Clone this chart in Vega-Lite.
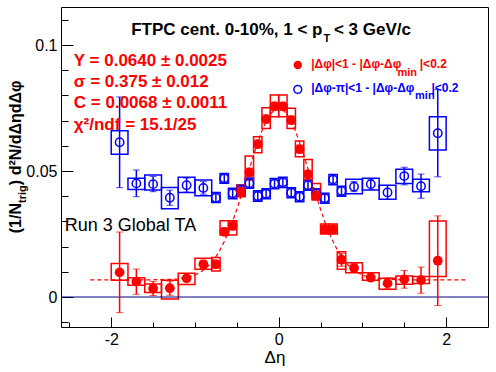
{
  "$schema": "https://vega.github.io/schema/vega-lite/v6.json",
  "width": 427,
  "height": 320,
  "autosize": "none",
  "padding": {"left": 61, "top": 7, "right": 8, "bottom": 45},
  "background": "white",
  "config": {
    "view": {"stroke": "#000000", "strokeWidth": 1},
    "text": {"font": "Liberation Sans"},
    "axis": {"labelFont": "Liberation Sans", "titleFont": "Liberation Sans", "domain": false, "grid": false, "tickColor": "black", "tickWidth": 1, "labelColor": "black", "labelOverlap": false, "labelFlush": false, "labelBound": false}
  },
  "resolve": {"axis": {"x": "independent", "y": "independent"}},
  "data": {"values": [{}]},
  "datasets": {
    "near": [
      {"x": -1.9, "xlo": -2.0, "xhi": -1.8, "y": 0.0098, "err": 0.016, "slo": 0.0067, "shi": 0.0133},
      {"x": -1.7, "xlo": -1.8, "xhi": -1.6, "y": 0.0061, "err": 0.005, "slo": 0.0047, "shi": 0.0076},
      {"x": -1.5, "xlo": -1.6, "xhi": -1.4, "y": 0.0034, "err": 0.0028, "slo": 0.0018, "shi": 0.0052},
      {"x": -1.3, "xlo": -1.4, "xhi": -1.2, "y": 0.0035, "err": 0.0028, "slo": -0.0008, "shi": 0.0067},
      {"x": -1.1, "xlo": -1.2, "xhi": -1.0, "y": 0.0074, "err": 0.0013, "slo": 0.005, "shi": 0.0094},
      {"x": -0.9, "xlo": -1.0, "xhi": -0.8, "y": 0.013, "err": 0.0016, "slo": 0.011, "shi": 0.0154},
      {"x": -0.75, "xlo": -0.8, "xhi": -0.7, "y": 0.013, "err": 0.0016, "slo": 0.0103, "shi": 0.0157},
      {"x": -0.65, "xlo": -0.7, "xhi": -0.6, "y": 0.0259, "err": 0.0015, "slo": 0.0246, "shi": 0.0303},
      {"x": -0.55, "xlo": -0.6, "xhi": -0.5, "y": 0.0282, "err": 0.0015, "slo": 0.0246, "shi": 0.0303},
      {"x": -0.45, "xlo": -0.5, "xhi": -0.4, "y": 0.0418, "err": 0.0015, "slo": 0.0398, "shi": 0.0444},
      {"x": -0.35, "xlo": -0.4, "xhi": -0.3, "y": 0.0495, "err": 0.0016, "slo": 0.0464, "shi": 0.056},
      {"x": -0.25, "xlo": -0.3, "xhi": -0.2, "y": 0.0607, "err": 0.0016, "slo": 0.0573, "shi": 0.0636},
      {"x": -0.15, "xlo": -0.2, "xhi": -0.1, "y": 0.0706, "err": 0.0016, "slo": 0.0669, "shi": 0.0751},
      {"x": -0.05, "xlo": -0.1, "xhi": 0.0, "y": 0.0757, "err": 0.0016, "slo": 0.0715, "shi": 0.0802},
      {"x": 0.05, "xlo": 0.0, "xhi": 0.1, "y": 0.0757, "err": 0.0016, "slo": 0.0715, "shi": 0.0802},
      {"x": 0.15, "xlo": 0.1, "xhi": 0.2, "y": 0.0702, "err": 0.0016, "slo": 0.0669, "shi": 0.0749},
      {"x": 0.25, "xlo": 0.2, "xhi": 0.3, "y": 0.0587, "err": 0.0016, "slo": 0.0557, "shi": 0.0619},
      {"x": 0.35, "xlo": 0.3, "xhi": 0.4, "y": 0.0487, "err": 0.0016, "slo": 0.0464, "shi": 0.0546},
      {"x": 0.45, "xlo": 0.4, "xhi": 0.5, "y": 0.0403, "err": 0.0015, "slo": 0.0385, "shi": 0.0451},
      {"x": 0.55, "xlo": 0.5, "xhi": 0.6, "y": 0.0269, "err": 0.0015, "slo": 0.025, "shi": 0.029},
      {"x": 0.65, "xlo": 0.6, "xhi": 0.7, "y": 0.0269, "err": 0.0015, "slo": 0.025, "shi": 0.029},
      {"x": 0.75, "xlo": 0.7, "xhi": 0.8, "y": 0.0148, "err": 0.0026, "slo": 0.011, "shi": 0.018},
      {"x": 0.9, "xlo": 0.8, "xhi": 1.0, "y": 0.0115, "err": 0.0017, "slo": 0.0096, "shi": 0.0136},
      {"x": 1.1, "xlo": 1.0, "xhi": 1.2, "y": 0.0077, "err": 0.0016, "slo": 0.0067, "shi": 0.0096},
      {"x": 1.3, "xlo": 1.2, "xhi": 1.4, "y": 0.0054, "err": 0.0022, "slo": 0.0031, "shi": 0.0074},
      {"x": 1.5, "xlo": 1.4, "xhi": 1.6, "y": 0.007, "err": 0.0035, "slo": 0.0051, "shi": 0.0083},
      {"x": 1.7, "xlo": 1.6, "xhi": 1.8, "y": 0.0067, "err": 0.0052, "slo": 0.0054, "shi": 0.0081},
      {"x": 1.9, "xlo": 1.8, "xhi": 2.0, "y": 0.0144, "err": 0.0178, "slo": 0.0081, "shi": 0.0302}
    ],
    "away": [
      {"x": -1.9, "xlo": -2.0, "xhi": -1.8, "y": 0.0614, "err": 0.018, "slo": 0.0567, "shi": 0.066},
      {"x": -1.7, "xlo": -1.8, "xhi": -1.6, "y": 0.0451, "err": 0.0053, "slo": 0.0427, "shi": 0.0471},
      {"x": -1.5, "xlo": -1.6, "xhi": -1.4, "y": 0.0448, "err": 0.003, "slo": 0.0425, "shi": 0.0484},
      {"x": -1.3, "xlo": -1.4, "xhi": -1.2, "y": 0.0394, "err": 0.003, "slo": 0.035, "shi": 0.0435},
      {"x": -1.1, "xlo": -1.2, "xhi": -1.0, "y": 0.0444, "err": 0.0028, "slo": 0.0415, "shi": 0.0475},
      {"x": -0.9, "xlo": -1.0, "xhi": -0.8, "y": 0.0433, "err": 0.0025, "slo": 0.0402, "shi": 0.0464},
      {"x": -0.75, "xlo": -0.8, "xhi": -0.7, "y": 0.0394, "err": 0.0018, "slo": 0.0375, "shi": 0.0415},
      {"x": -0.65, "xlo": -0.7, "xhi": -0.6, "y": 0.0471, "err": 0.0018, "slo": 0.0452, "shi": 0.049},
      {"x": -0.55, "xlo": -0.6, "xhi": -0.5, "y": 0.0412, "err": 0.0018, "slo": 0.039, "shi": 0.0432},
      {"x": -0.45, "xlo": -0.5, "xhi": -0.4, "y": 0.0425, "err": 0.0018, "slo": 0.0405, "shi": 0.0445},
      {"x": -0.35, "xlo": -0.4, "xhi": -0.3, "y": 0.0452, "err": 0.0018, "slo": 0.0432, "shi": 0.0472},
      {"x": -0.25, "xlo": -0.3, "xhi": -0.2, "y": 0.0401, "err": 0.0018, "slo": 0.038, "shi": 0.0422},
      {"x": -0.15, "xlo": -0.2, "xhi": -0.1, "y": 0.041, "err": 0.0018, "slo": 0.039, "shi": 0.043},
      {"x": -0.05, "xlo": -0.1, "xhi": 0.0, "y": 0.045, "err": 0.0018, "slo": 0.043, "shi": 0.047},
      {"x": 0.05, "xlo": 0.0, "xhi": 0.1, "y": 0.0455, "err": 0.0018, "slo": 0.0435, "shi": 0.0475},
      {"x": 0.15, "xlo": 0.1, "xhi": 0.2, "y": 0.0414, "err": 0.0018, "slo": 0.0394, "shi": 0.0434},
      {"x": 0.25, "xlo": 0.2, "xhi": 0.3, "y": 0.0398, "err": 0.0018, "slo": 0.0378, "shi": 0.0418},
      {"x": 0.35, "xlo": 0.3, "xhi": 0.4, "y": 0.0444, "err": 0.0018, "slo": 0.0424, "shi": 0.0464},
      {"x": 0.45, "xlo": 0.4, "xhi": 0.5, "y": 0.0411, "err": 0.0018, "slo": 0.039, "shi": 0.043},
      {"x": 0.55, "xlo": 0.5, "xhi": 0.6, "y": 0.0392, "err": 0.0018, "slo": 0.0372, "shi": 0.0412},
      {"x": 0.65, "xlo": 0.6, "xhi": 0.7, "y": 0.0466, "err": 0.0018, "slo": 0.0446, "shi": 0.0486},
      {"x": 0.75, "xlo": 0.7, "xhi": 0.8, "y": 0.0421, "err": 0.0018, "slo": 0.04, "shi": 0.044},
      {"x": 0.9, "xlo": 0.8, "xhi": 1.0, "y": 0.0438, "err": 0.002, "slo": 0.041, "shi": 0.0467},
      {"x": 1.1, "xlo": 1.0, "xhi": 1.2, "y": 0.0448, "err": 0.002, "slo": 0.0425, "shi": 0.0471},
      {"x": 1.3, "xlo": 1.2, "xhi": 1.4, "y": 0.0415, "err": 0.0028, "slo": 0.0388, "shi": 0.0444},
      {"x": 1.5, "xlo": 1.4, "xhi": 1.6, "y": 0.048, "err": 0.0035, "slo": 0.0451, "shi": 0.0507},
      {"x": 1.7, "xlo": 1.6, "xhi": 1.8, "y": 0.044, "err": 0.0048, "slo": 0.0418, "shi": 0.0467},
      {"x": 1.9, "xlo": 1.8, "xhi": 2.0, "y": 0.065, "err": 0.0173, "slo": 0.0583, "shi": 0.0715}
    ],
    "fit": [
      {"x": -2.25, "y": 0.0068}, {"x": -1.6, "y": 0.0068}, {"x": -1.4, "y": 0.0069}, {"x": -1.3, "y": 0.007},
      {"x": -1.2, "y": 0.0072}, {"x": -1.1, "y": 0.0077}, {"x": -1.0, "y": 0.0087}, {"x": -0.95, "y": 0.0096},
      {"x": -0.9, "y": 0.0106}, {"x": -0.85, "y": 0.012}, {"x": -0.8, "y": 0.0138}, {"x": -0.75, "y": 0.016},
      {"x": -0.7, "y": 0.0187}, {"x": -0.65, "y": 0.022}, {"x": -0.6, "y": 0.0257}, {"x": -0.55, "y": 0.03},
      {"x": -0.5, "y": 0.0348}, {"x": -0.45, "y": 0.04}, {"x": -0.4, "y": 0.0454}, {"x": -0.35, "y": 0.0509},
      {"x": -0.3, "y": 0.0562}, {"x": -0.25, "y": 0.0613}, {"x": -0.2, "y": 0.0659}, {"x": -0.15, "y": 0.0697},
      {"x": -0.1, "y": 0.0725}, {"x": -0.05, "y": 0.0743}, {"x": 0.0, "y": 0.0749}, {"x": 0.05, "y": 0.0743},
      {"x": 0.1, "y": 0.0725}, {"x": 0.15, "y": 0.0697}, {"x": 0.2, "y": 0.0659}, {"x": 0.25, "y": 0.0613},
      {"x": 0.3, "y": 0.0562}, {"x": 0.35, "y": 0.0509}, {"x": 0.4, "y": 0.0454}, {"x": 0.45, "y": 0.04},
      {"x": 0.5, "y": 0.0348}, {"x": 0.55, "y": 0.03}, {"x": 0.6, "y": 0.0257}, {"x": 0.65, "y": 0.022},
      {"x": 0.7, "y": 0.0187}, {"x": 0.75, "y": 0.016}, {"x": 0.8, "y": 0.0138}, {"x": 0.85, "y": 0.012},
      {"x": 0.9, "y": 0.0106}, {"x": 0.95, "y": 0.0096}, {"x": 1.0, "y": 0.0087}, {"x": 1.1, "y": 0.0077},
      {"x": 1.2, "y": 0.0072}, {"x": 1.3, "y": 0.007}, {"x": 1.4, "y": 0.0069}, {"x": 1.6, "y": 0.0068},
      {"x": 2.25, "y": 0.0068}
    ]
  },
  "layer": [
    {
      "data": {"name": "away"},
      "mark": {"type": "rect", "filled": false, "color": "#0000ff", "strokeWidth": 1.5},
      "encoding": {
        "x": {"field": "xlo", "type": "quantitative", "scale": {"domain": [-2.6, 2.5], "nice": false, "zero": false},
          "axis": {"orient": "bottom", "title": "Δη", "titleFontSize": 17, "titleFontWeight": "normal", "titleColor": "black", "titlePadding": 2,
            "values": [-2, 0, 2],
            "labelExpr": "datum.value === -2 ? '-2' : datum.value === 0 ? '0' : '2'",
            "tickSize": -10, "labelPadding": 14, "labelFontSize": 16}},
        "x2": {"field": "xhi"},
        "y": {"field": "slo", "type": "quantitative", "scale": {"domain": [-0.0119, 0.1151], "nice": false, "zero": false},
          "axis": {"orient": "left", "title": null,
            "values": [0, 0.05, 0.1],
            "labelExpr": "datum.value === 0 ? '0' : datum.value === 0.05 ? '0.05' : '0.1'",
            "tickSize": -12, "labelPadding": 16, "labelFontSize": 16}},
        "y2": {"field": "shi"}
      }
    },
    {
      "data": {"name": "near"},
      "mark": {"type": "rect", "filled": false, "color": "#ff0000", "strokeWidth": 1.5},
      "encoding": {
        "x": {"field": "xlo", "type": "quantitative", "scale": {"domain": [-2.6, 2.5], "nice": false, "zero": false},
          "axis": {"orient": "bottom", "title": null, "values": [-2.5, -1.5, -1, -0.5, 0.5, 1, 1.5], "labels": false, "tickSize": -5}},
        "x2": {"field": "xhi"},
        "y": {"field": "slo", "type": "quantitative", "scale": {"domain": [-0.0119, 0.1151], "nice": false, "zero": false},
          "axis": {"orient": "left", "title": null, "values": [-0.01, 0.01, 0.02, 0.03, 0.04, 0.06, 0.07, 0.08, 0.09, 0.11], "labels": false, "tickSize": -7}},
        "y2": {"field": "shi"}
      }
    },
    {
      "mark": {"type": "rule", "color": "#000080", "strokeWidth": 1},
      "encoding": {
        "y": {"datum": 0, "type": "quantitative", "scale": {"domain": [-0.0119, 0.1151], "nice": false, "zero": false}, "axis": null}
      }
    },
    {
      "data": {"name": "fit"},
      "mark": {"type": "line", "color": "#ff0000", "strokeWidth": 1.2, "strokeDash": [4, 3]},
      "encoding": {
        "x": {"field": "x", "type": "quantitative", "scale": {"domain": [-2.6, 2.5], "nice": false, "zero": false}, "axis": null},
        "y": {"field": "y", "type": "quantitative", "scale": {"domain": [-0.0119, 0.1151], "nice": false, "zero": false}, "axis": null}
      }
    },
    {
      "data": {"name": "away"},
      "mark": {"type": "errorbar", "color": "#0000ff", "ticks": {"size": 7}, "rule": {"strokeWidth": 1.5}},
      "encoding": {
        "x": {"field": "x", "type": "quantitative", "scale": {"domain": [-2.6, 2.5], "nice": false, "zero": false}, "axis": null},
        "y": {"field": "y", "type": "quantitative", "scale": {"domain": [-0.0119, 0.1151], "nice": false, "zero": false}, "axis": null},
        "yError": {"field": "err"}
      }
    },
    {
      "data": {"name": "away"},
      "mark": {"type": "point", "shape": "circle", "filled": false, "color": "#0000ff", "strokeWidth": 1.5, "size": 70, "opacity": 1},
      "encoding": {
        "x": {"field": "x", "type": "quantitative", "scale": {"domain": [-2.6, 2.5], "nice": false, "zero": false}, "axis": null},
        "y": {"field": "y", "type": "quantitative", "scale": {"domain": [-0.0119, 0.1151], "nice": false, "zero": false}, "axis": null}
      }
    },
    {
      "data": {"name": "near"},
      "mark": {"type": "errorbar", "color": "#ff0000", "ticks": {"size": 7}, "rule": {"strokeWidth": 1.5}},
      "encoding": {
        "x": {"field": "x", "type": "quantitative", "scale": {"domain": [-2.6, 2.5], "nice": false, "zero": false}, "axis": null},
        "y": {"field": "y", "type": "quantitative", "scale": {"domain": [-0.0119, 0.1151], "nice": false, "zero": false}, "axis": null},
        "yError": {"field": "err"}
      }
    },
    {
      "data": {"name": "near"},
      "mark": {"type": "point", "shape": "circle", "filled": true, "color": "#ff0000", "size": 95, "opacity": 1},
      "encoding": {
        "x": {"field": "x", "type": "quantitative", "scale": {"domain": [-2.6, 2.5], "nice": false, "zero": false}, "axis": null},
        "y": {"field": "y", "type": "quantitative", "scale": {"domain": [-0.0119, 0.1151], "nice": false, "zero": false}, "axis": null}
      }
    },
    {
      "mark": {"type": "text", "align": "right", "baseline": "alphabetic", "fontSize": 17, "fontWeight": "bold", "color": "black", "text": "FTPC cent. 0-10%, 1 < p"},
      "encoding": {"x": {"datum": 0.523, "type": "quantitative", "axis": null}, "y": {"datum": 0.104, "type": "quantitative", "axis": null}}
    },
    {
      "mark": {"type": "text", "align": "left", "baseline": "alphabetic", "fontSize": 11, "fontWeight": "bold", "color": "black", "text": "T"},
      "encoding": {"x": {"datum": 0.535, "type": "quantitative", "axis": null}, "y": {"datum": 0.1013, "type": "quantitative", "axis": null}}
    },
    {
      "mark": {"type": "text", "align": "left", "baseline": "alphabetic", "fontSize": 17, "fontWeight": "bold", "color": "black", "text": "< 3 GeV/c"},
      "encoding": {"x": {"datum": 0.66, "type": "quantitative", "axis": null}, "y": {"datum": 0.104, "type": "quantitative", "axis": null}}
    },
    {
      "mark": {"type": "text", "align": "left", "baseline": "alphabetic", "fontSize": 17, "fontWeight": "bold", "color": "#ff0000", "text": "Y = 0.0640  ± 0.0025"},
      "encoding": {"x": {"datum": -2.447, "type": "quantitative", "axis": null}, "y": {"datum": 0.0918, "type": "quantitative", "axis": null}}
    },
    {
      "mark": {"type": "text", "align": "left", "baseline": "alphabetic", "fontSize": 17, "fontWeight": "bold", "color": "#ff0000", "text": "σ = 0.375  ± 0.012"},
      "encoding": {"x": {"datum": -2.447, "type": "quantitative", "axis": null}, "y": {"datum": 0.0835, "type": "quantitative", "axis": null}}
    },
    {
      "mark": {"type": "text", "align": "left", "baseline": "alphabetic", "fontSize": 17, "fontWeight": "bold", "color": "#ff0000", "text": "C = 0.0068  ± 0.0011"},
      "encoding": {"x": {"datum": -2.447, "type": "quantitative", "axis": null}, "y": {"datum": 0.0749, "type": "quantitative", "axis": null}}
    },
    {
      "mark": {"type": "text", "align": "left", "baseline": "alphabetic", "fontSize": 17, "fontWeight": "bold", "color": "#ff0000", "text": "χ²/ndf = 15.1/25"},
      "encoding": {"x": {"datum": -2.447, "type": "quantitative", "axis": null}, "y": {"datum": 0.0663, "type": "quantitative", "axis": null}}
    },
    {
      "mark": {"type": "text", "align": "left", "baseline": "alphabetic", "fontSize": 18, "fontWeight": "normal", "color": "black", "text": "Run 3 Global TA"},
      "encoding": {"x": {"datum": -2.555, "type": "quantitative", "axis": null}, "y": {"datum": 0.0263, "type": "quantitative", "axis": null}}
    },
    {
      "mark": {"type": "point", "shape": "circle", "filled": true, "color": "#ff0000", "size": 70, "opacity": 1},
      "encoding": {"x": {"datum": 0.228, "type": "quantitative", "axis": null}, "y": {"datum": 0.0921, "type": "quantitative", "axis": null}}
    },
    {
      "mark": {"type": "point", "shape": "circle", "filled": false, "color": "#0000ff", "strokeWidth": 1.5, "size": 60, "opacity": 1},
      "encoding": {"x": {"datum": 0.228, "type": "quantitative", "axis": null}, "y": {"datum": 0.0824, "type": "quantitative", "axis": null}}
    },
    {
      "mark": {"type": "text", "align": "left", "baseline": "alphabetic", "fontSize": 12, "fontWeight": "bold", "color": "#ff0000", "text": "|Δφ|<1 - |Δφ-Δφ"},
      "encoding": {"x": {"datum": 0.388, "type": "quantitative", "axis": null}, "y": {"datum": 0.0908, "type": "quantitative", "axis": null}}
    },
    {
      "mark": {"type": "text", "align": "left", "baseline": "alphabetic", "fontSize": 11, "fontWeight": "bold", "color": "#ff0000", "text": "min"},
      "encoding": {"x": {"datum": 1.418, "type": "quantitative", "axis": null}, "y": {"datum": 0.0878, "type": "quantitative", "axis": null}}
    },
    {
      "mark": {"type": "text", "align": "left", "baseline": "alphabetic", "fontSize": 12, "fontWeight": "bold", "color": "#ff0000", "text": "|<0.2"},
      "encoding": {"x": {"datum": 1.685, "type": "quantitative", "axis": null}, "y": {"datum": 0.0908, "type": "quantitative", "axis": null}}
    },
    {
      "mark": {"type": "text", "align": "left", "baseline": "alphabetic", "fontSize": 12, "fontWeight": "bold", "color": "#0000ff", "text": "|Δφ-π|<1 - |Δφ-Δφ"},
      "encoding": {"x": {"datum": 0.388, "type": "quantitative", "axis": null}, "y": {"datum": 0.0815, "type": "quantitative", "axis": null}}
    },
    {
      "mark": {"type": "text", "align": "left", "baseline": "alphabetic", "fontSize": 11, "fontWeight": "bold", "color": "#0000ff", "text": "min"},
      "encoding": {"x": {"datum": 1.629, "type": "quantitative", "axis": null}, "y": {"datum": 0.0786, "type": "quantitative", "axis": null}}
    },
    {
      "mark": {"type": "text", "align": "left", "baseline": "alphabetic", "fontSize": 12, "fontWeight": "bold", "color": "#0000ff", "text": "|<0.2"},
      "encoding": {"x": {"datum": 1.825, "type": "quantitative", "axis": null}, "y": {"datum": 0.0815, "type": "quantitative", "axis": null}}
    },
    {
      "mark": {"type": "text", "angle": 270, "align": "left", "baseline": "alphabetic", "fontSize": 16, "fontWeight": "bold", "color": "black", "text": "(1/N"},
      "encoding": {"x": {"datum": -3.081, "type": "quantitative", "axis": null}, "y": {"datum": 0.0253, "type": "quantitative", "axis": null}}
    },
    {
      "mark": {"type": "text", "angle": 270, "align": "left", "baseline": "alphabetic", "fontSize": 11, "fontWeight": "bold", "color": "black", "text": "trig"},
      "encoding": {"x": {"datum": -3.021, "type": "quantitative", "axis": null}, "y": {"datum": 0.0373, "type": "quantitative", "axis": null}}
    },
    {
      "mark": {"type": "text", "angle": 270, "align": "left", "baseline": "alphabetic", "fontSize": 16, "fontWeight": "bold", "color": "black", "text": ") d²N/dΔηdΔφ"},
      "encoding": {"x": {"datum": -3.081, "type": "quantitative", "axis": null}, "y": {"datum": 0.0444, "type": "quantitative", "axis": null}}
    }
  ]
}
